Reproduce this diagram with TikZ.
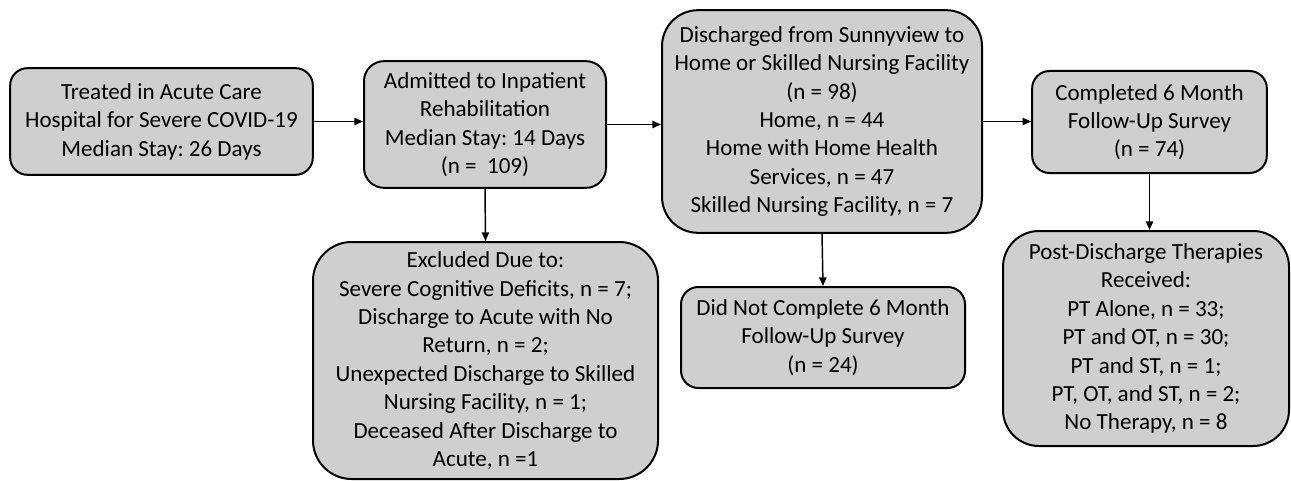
\documentclass[tikz,border=0pt]{standalone}
\usepackage{fontspec}
\setmainfont{Carlito}
\usetikzlibrary{arrows.meta}
\definecolor{boxgray}{RGB}{208,207,207}
\frenchspacing

\begin{document}
\begin{tikzpicture}[x=0.75pt,y=-0.75pt,
		-{Triangle[length=6.5pt,width=5.5pt]},line width=1.1pt,
		flow box/.style={rectangle,draw,fill=boxgray,line width=1.5pt,align=center,
			inner sep=0pt,font=\fontsize{17.3}{21.3}\selectfont}]

		\useasboundingbox (0,0) rectangle (1291,481);

		\node[flow box, rounded corners=13pt, minimum width=227pt, minimum height=80pt] (1) at (161.5,121.5)
			{Treated in Acute Care\\Hospital for Severe COVID-19\\Median Stay: 26 Days};
		\node[flow box, rounded corners=15pt, minimum width=181.5pt, minimum height=95pt] (2) at (485,124.5)
			{Admitted to Inpatient\\Rehabilitation\\Median Stay: 14 Days\\(n =\ \ 109)};
		\node[flow box, rounded corners=27pt, minimum width=240pt, minimum height=167pt] (3) at (822,121.5)
			{Discharged from Sunnyview to\\Home or Skilled Nursing Facility\\(n = 98)\\Home, n = 44\\Home with Home Health\\Services, n = 47\\Skilled Nursing Facility, n = 7};
		\node[flow box, rounded corners=13pt, minimum width=176pt, minimum height=76.5pt] (4) at (1149.5,122)
			{Completed 6 Month\\Follow-Up Survey\\(n = 74)};
		\node[flow box, rounded corners=29pt, minimum width=258.75pt, minimum height=177.75pt] (5) at (485.5,360.5)
			{Excluded Due to:\\Severe Cognitive Deficits, n = 7;\\Discharge to Acute with No\\Return, n = 2;\\Unexpected Discharge to Skilled\\Nursing Facility, n = 1;\\Deceased After Discharge to\\Acute, n =1};
		\node[flow box, rounded corners=13pt, minimum width=213pt, minimum height=75.75pt] (6) at (823,337.5)
			{Did Not Complete 6 Month\\Follow-Up Survey\\(n = 24)};
		\node[flow box, rounded corners=27pt, minimum width=214.5pt, minimum height=161.25pt] (7) at (1146,338.5)
			{Post-Discharge Therapies\\Received:\\PT Alone, n = 33;\\PT and OT, n = 30;\\PT and ST, n = 1;\\PT, OT, and ST, n = 2;\\No Therapy, n = 8};

		\path
		(1.east) edge (1.east -| 2.west)
		(2.east) edge (2.east -| 3.west)
		(3.east) edge (3.east -| 4.west)
		(2.south) edge (5.north)
		(3.south) edge (6.north)
		(4.south) edge (4.south |- 7.north);
\end{tikzpicture}
\end{document}
